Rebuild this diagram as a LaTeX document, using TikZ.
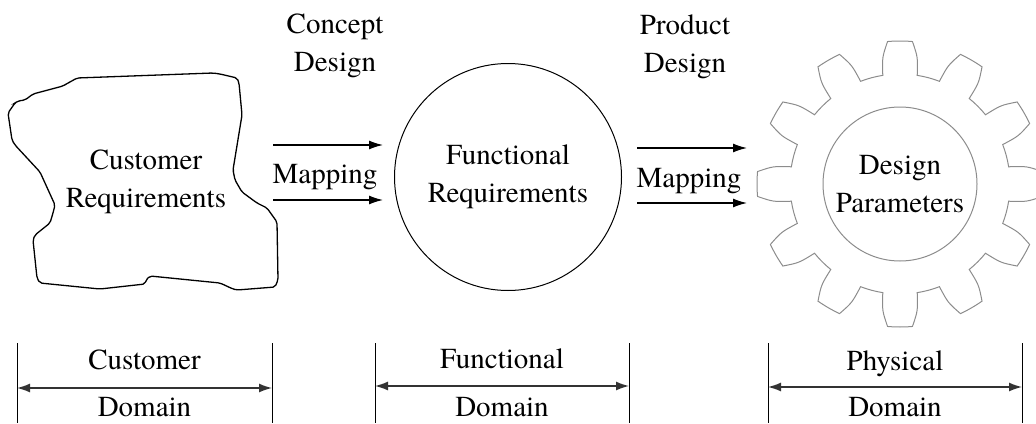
\documentclass[tikz,border=0pt]{standalone}
\usepackage{fontspec}
\setmainfont{TeX Gyre Termes}
\usetikzlibrary{arrows.meta}
\begin{document}
\begin{tikzpicture}[x=1pt,y=-1pt,
  lbl/.style={font=\fontsize{29}{38}\selectfont, inner sep=0pt, align=center},
  maparrow/.style={line width=1.4pt, -{Latex[length=14pt,width=9pt]}},
  dimarrow/.style={line width=1.4pt, draw=black!80, {Latex[length=13pt,width=9pt]}-{Latex[length=13pt,width=9pt]}},
  bar/.style={line width=0.9pt},
  gearline/.style={draw=black!45, line width=1pt},
]
\useasboundingbox (0,0) rectangle (1036,423);

% Customer requirements blob
\draw[line width=1.3pt, rounded corners=2pt]
  (70,82) -- (77,78) -- (213,73) -- (220,74) -- (237,78) -- (239,83)
  -- (242,115) -- (233,170) -- (235,180) -- (242,192) -- (257,203)
  -- (267,208) -- (277,222) -- (278,280) -- (275,287) -- (237,290)
  -- (233,289) -- (220,283) -- (150,276) -- (146,280) -- (145,284)
  -- (100,289) -- (40,283) -- (37,278) -- (33,240) -- (35,235)
  -- (50,223) -- (53,213) -- (55,205) -- (40,172) -- (15,145)
  -- (12,140) -- (8,113) -- (15,103) -- (18,101) -- (25,100)
  -- (33,94) -- (63,86) -- (68,83) -- cycle;
\node[lbl] (cr) at (146,182) {Customer\\Requirements};

% Functional requirements circle
\node[lbl, draw, circle, line width=1pt, minimum size=227pt] (fr) at (508,177) {Functional\\Requirements};

% Gear
\begin{scope}[shift={(900,184)}, y=1pt]
  \draw[gearline] (-9:110pt)
    \foreach \a in {0,30,...,330} {
      -- ({\a-9}:110pt) .. controls ({\a-8}:128pt) .. ({\a-5}:143pt)
      arc[start angle=\a-5, end angle=\a+5, radius=143pt]
      .. controls ({\a+8}:128pt) .. ({\a+9}:110pt)
      arc[start angle=\a+9, end angle=\a+21, radius=110pt]
    } -- cycle;
\end{scope}
\node[lbl, draw=black!45, line width=1pt, circle, minimum size=154pt] (dp) at (900,184) {Design\\Parameters};

% Mapping arrows
\coordinate (a1s) at (273,145); \coordinate (a1e) at (383,145);
\coordinate (a2s) at (273,200); \coordinate (a2e) at (383,200);
\coordinate (b1s) at (637,148); \coordinate (b1e) at (747,148);
\coordinate (b2s) at (637,203); \coordinate (b2e) at (747,203);
\draw[maparrow] (a1s) -- (a1e);
\draw[maparrow] (a2s) -- (a2e);
\draw[maparrow] (b1s) -- (b1e);
\draw[maparrow] (b2s) -- (b2e);
\node[lbl, anchor=base] (m1) at (325,183) {Mapping};
\node[lbl, anchor=base] (m2) at (689,187) {Mapping};
\node[lbl] (cd) at (335,46) {Concept\\Design};
\node[lbl] (pd) at (685,47) {Product\\Design};

% Domain dimension lines
\coordinate (c1t) at (17,343); \coordinate (c1b) at (17,423);
\coordinate (c2t) at (272,343); \coordinate (c2b) at (272,423);
\coordinate (f1t) at (375,343); \coordinate (f1b) at (375,423);
\coordinate (f2t) at (629,343); \coordinate (f2b) at (629,423);
\coordinate (p1t) at (768,343); \coordinate (p1b) at (768,423);
\coordinate (p2t) at (1022,343); \coordinate (p2b) at (1022,423);
\foreach \n in {c1,c2,f1,f2,p1,p2} \draw[bar] (\n t) -- (\n b);
\draw[dimarrow] (c1t |- 0,388) -- (c2t |- 0,388);
\draw[dimarrow] (f1t |- 0,386) -- (f2t |- 0,386);
\draw[dimarrow] (p1t |- 0,387) -- (p2t |- 0,387);
\node[lbl, anchor=base] (cdu) at (144.5,369) {Customer};
\node[lbl, anchor=base] (cdd) at (144.5,416) {Domain};
\node[lbl, anchor=base] (fdu) at (502,368) {Functional};
\node[lbl, anchor=base] (fdd) at (502,416) {Domain};
\node[lbl, anchor=base] (pdu) at (895,370) {Physical};
\node[lbl, anchor=base] (pdd) at (895,416) {Domain};
\end{tikzpicture}
\end{document}
